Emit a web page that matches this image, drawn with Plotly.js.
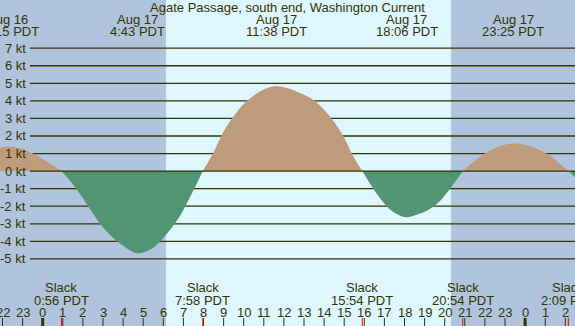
<!DOCTYPE html>
<html><head><meta charset="utf-8">
<script src="https://cdn.plot.ly/plotly-3.0.1.min.js"></script>
<style>html,body{margin:0;padding:0;background:#B0C4DE;overflow:hidden}#chart{width:575px;height:326px}</style>
</head><body><div id="chart"></div>
<script>
// ---- data (hours relative to Aug 17 00:00 PDT) ----
const stationTitle = "Agate Passage, south end, Washington Current";
const currentHours = [-2.6, -2.1, -1.6, -1.1, -0.5, 0.2, 0.933,
  1.5, 2.0, 2.5, 3.0, 3.5, 4.0, 4.7, 5.3, 5.8, 6.3, 6.8, 7.3, 7.967,
  8.5, 9.0, 9.5, 10.0, 10.5, 11.0, 11.6, 12.2, 12.8, 13.4, 14.0, 14.5, 15.0, 15.4, 15.9,
  16.4, 16.9, 17.4, 18.1, 18.7, 19.2, 19.7, 20.3, 20.9,
  21.4, 21.9, 22.4, 22.9, 23.4, 24.0, 24.5, 25.0, 25.6, 26.15,
  26.6, 27.0];
const currentKnots = [1.25, 1.35, 1.38, 1.28, 1.0, 0.55, 0,
  -0.75, -1.55, -2.42, -3.2, -3.8, -4.25, -4.68, -4.5, -4.05, -3.4, -2.6, -1.55, 0,
  1.08, 2.25, 3.12, 3.82, 4.3, 4.65, 4.83, 4.72, 4.45, 4.1, 3.5, 2.8, 1.9, 0.95, 0,
  -0.92, -1.72, -2.3, -2.63, -2.45, -2.2, -1.78, -0.95, 0,
  0.5, 0.93, 1.25, 1.47, 1.57, 1.5, 1.3, 1.04, 0.55, 0,
  -0.45, -0.8];
const maxEventHours = [-1.75, 4.717, 11.633, 18.1, 23.417];
const maxEventDays = ["Aug 16", "Aug 17", "Aug 17", "Aug 17", "Aug 17"];
const maxEventClock = ["22:15 PDT", "4:43 PDT", "11:38 PDT", "18:06 PDT", "23:25 PDT"];
const slackHours = [0.933, 7.967, 15.9, 20.9, 26.15];
const slackClock = ["0:56 PDT", "7:58 PDT", "15:54 PDT", "20:54 PDT", "2:09 PDT"];
const daylight = [6.13, 20.31];           // sunrise, sunset
const knotTicks = [-5, -4, -3, -2, -1, 0, 1, 2, 3, 4, 5, 6, 7];
const hourTicks = [-2, -1, 0, 1, 2, 3, 4, 5, 6, 7, 8, 9, 10, 11, 12, 13, 14, 15, 16, 17, 18, 19, 20, 21, 22, 23, 24, 25, 26];

// ---- styling ----
const W = 575, H = 326;
const NIGHT = "#B0C4DE", DAY = "#DEF7FF", FLOOD = "#BD9B7B", EBB = "#519573", INK = "#333300";
const FONT = {family: "Liberation Sans, Arial, sans-serif", size: 13, color: INK};
const xRange = [-42.7 / 20.1, (W - 42.7) / 20.1];
const zeroPx = 171.1, pxPerKt = 17.56;
const yRange = [-(H - zeroPx) / pxPerKt, zeroPx / pxPerKt];
const py = p => 1 - p / H;

// split curve into lobes at slack points
const lobes = [];
let cur = {x: [currentHours[0]], y: [currentKnots[0]]};
for (let i = 1; i < currentHours.length; i++) {
  cur.x.push(currentHours[i]); cur.y.push(currentKnots[i]);
  if (currentKnots[i] === 0 && i < currentHours.length - 1) {
    lobes.push(cur); cur = {x: [currentHours[i]], y: [0]};
  }
}
lobes.push(cur);
const traces = lobes.map(l => ({
  type: "scatter", mode: "lines", x: l.x, y: l.y, fill: "tozeroy",
  fillcolor: l.y.some(v => v > 0) ? FLOOD : EBB,
  line: {width: 0, shape: "spline", smoothing: 1, color: "rgba(0,0,0,0)"},
  hoverinfo: "skip", showlegend: false
}));

const shapes = [];
shapes.push({type: "rect", xref: "x", yref: "paper", x0: daylight[0], x1: daylight[1], y0: 0, y1: 1,
  fillcolor: DAY, line: {width: 0}, layer: "below"});
knotTicks.forEach(k => {
  shapes.push({type: "line", xref: "paper", yref: "y", x0: 30 / W, x1: 1, y0: k, y1: k,
    line: {color: INK, width: 1.3}, layer: k === 0 ? "above" : "below"});
});
hourTicks.forEach(h => {
  shapes.push({type: "line", xref: "x", yref: "paper", x0: h, x1: h, y0: 0, y1: 8 / H,
    line: {color: INK, width: (h % 24 === 0) ? 3 : 1}, layer: "above"});
});
slackHours.forEach(h => {
  shapes.push({type: "line", xref: "x", yref: "paper", x0: h, x1: h, y0: 0, y1: 8 / H,
    line: {color: "#FF0000", width: 1}, layer: "above"});
});

const annotations = [];
knotTicks.forEach(k => annotations.push({xref: "paper", yref: "y", x: 28 / W, y: k, xanchor: "right", yanchor: "middle",
  text: k + " kt", showarrow: false, font: FONT}));
maxEventHours.forEach((h, i) => {
  annotations.push({xref: "x", yref: "paper", x: h, y: py(19), xanchor: "center", yanchor: "middle", text: maxEventDays[i], showarrow: false, font: FONT});
  annotations.push({xref: "x", yref: "paper", x: h, y: py(32), xanchor: "center", yanchor: "middle", text: maxEventClock[i], showarrow: false, font: FONT});
});
slackHours.forEach((h, i) => {
  annotations.push({xref: "x", yref: "paper", x: h, y: py(287), xanchor: "center", yanchor: "middle", text: "Slack", showarrow: false, font: FONT});
  annotations.push({xref: "x", yref: "paper", x: h, y: py(300), xanchor: "center", yanchor: "middle", text: slackClock[i], showarrow: false, font: FONT});
});
hourTicks.forEach(h => annotations.push({xref: "x", yref: "paper", x: h, y: py(312), xanchor: "center", yanchor: "middle",
  text: String(((h % 24) + 24) % 24), showarrow: false, font: FONT}));

const layout = {
  width: W, height: H, margin: {l: 0, r: 0, t: 0, b: 0, pad: 0},
  paper_bgcolor: NIGHT, plot_bgcolor: NIGHT,
  title: {text: stationTitle, x: 0.5, xanchor: "center", y: py(7.5), yanchor: "middle", font: FONT},
  xaxis: {range: xRange, visible: false, fixedrange: true},
  yaxis: {range: yRange, visible: false, fixedrange: true},
  shapes, annotations, showlegend: false
};
Plotly.newPlot("chart", traces, layout, {staticPlot: true, displayModeBar: false});
</script>
</body></html>
